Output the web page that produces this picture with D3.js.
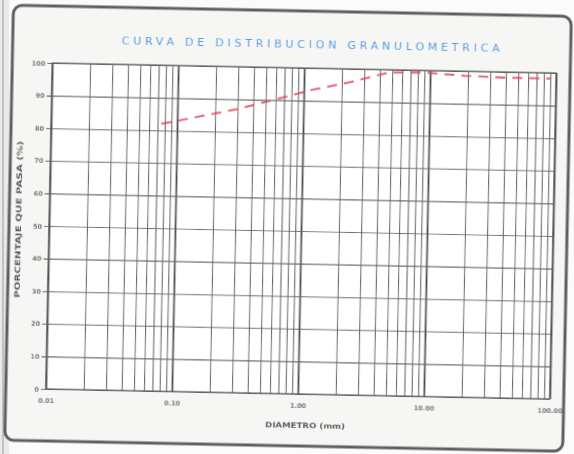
<!DOCTYPE html>
<html>
<head>
<meta charset="utf-8">
<script src="https://cdn.jsdelivr.net/npm/d3@7/dist/d3.min.js"></script>
<style>
  html, body { margin: 0; padding: 0; background: #ffffff; }
  svg { display: block; }
</style>
</head>
<body>
<div id="chart"></div>
<script>
// ---- data ----
const sizesMm   = [0.075, 0.15, 0.3, 0.6, 1.18, 2.36, 4.75, 9.5, 19.0, 37.5, 90.0];
const passing   = [82.0, 84.5, 87.0, 90.2, 93.4, 96.0, 99.2, 99.3, 98.6, 98.3, 98.3];
const yTicks    = [0, 10, 20, 30, 40, 50, 60, 70, 80, 90, 100];
const xDecades  = [0.01, 0.1, 1, 10, 100];
const titleText = "CURVA DE DISTRIBUCION GRANULOMETRICA";
const xTitle    = "DIAMETRO (mm)";
const yTitle    = "PORCENTAJE QUE PASA (%)";

const W = 574, H = 454;
const L = 49, R = 553, T = 68, B = 394;

const svg = d3.select("#chart").append("svg")
  .attr("width", W).attr("height", H);

const defs = svg.append("defs");
defs.append("filter").attr("id", "soft")
  .attr("x", "-5%").attr("y", "-5%").attr("width", "110%").attr("height", "110%")
  .append("feGaussianBlur").attr("stdDeviation", 0.55);

svg.append("rect").attr("width", W).attr("height", H).attr("fill", "#fbfbfb");
// edge of neighbouring page on the left
svg.append("rect").attr("x", 0).attr("y", 0).attr("width", 9).attr("height", H).attr("fill", "#e9e9e9");
svg.append("line").attr("x1", 3).attr("x2", 3).attr("y1", 0).attr("y2", H)
  .attr("stroke", "#9a9a9a").attr("stroke-width", 1);

const g = svg.append("g")
  .attr("transform", "rotate(1.14, 301, 231)")
  .attr("filter", "url(#soft)");

// frame
g.append("rect")
  .attr("x", 9).attr("y", 11).attr("width", 558).attr("height", 435)
  .attr("rx", 9).attr("ry", 9)
  .attr("fill", "#f6f6f4").attr("stroke", "#5e5e5e").attr("stroke-width", 3);

const x = d3.scaleLog().domain([0.01, 100]).range([L, R]);
const y = d3.scaleLinear().domain([0, 100]).range([B, T]);

// plot background
g.append("rect").attr("x", L).attr("y", T).attr("width", R - L).attr("height", B - T)
  .attr("fill", "#ffffff");

// vertical grid
const xTickVals = [];
xDecades.slice(0, -1).forEach(d => { for (let k = 1; k <= 9; k++) xTickVals.push(+(k * d).toPrecision(3)); });
xTickVals.push(100);
const isDecade = v => xDecades.some(d => Math.abs(v - d) < d * 1e-6);

const xGrid = g.append("g").attr("transform", `translate(0,${B})`)
  .call(d3.axisBottom(x).tickValues(xTickVals).tickSize(-(B - T)).tickFormat(""));
xGrid.select(".domain").remove();
xGrid.selectAll(".tick line")
  .attr("stroke", d => isDecade(d) ? "#4a4a4a" : "#666666")
  .attr("stroke-width", d => isDecade(d) ? 1.8 : 1.1);

// horizontal grid (extends 5px left of plot)
const yGrid = g.append("g").attr("transform", `translate(${R},0)`)
  .call(d3.axisLeft(y).tickValues(yTicks).tickSize(R - L + 5).tickFormat(""));
yGrid.select(".domain").remove();
yGrid.selectAll(".tick line").attr("stroke", "#6e6e6e").attr("stroke-width", 1.1);

// y labels
const yAx = g.append("g").attr("transform", `translate(${L - 5},0)`)
  .call(d3.axisLeft(y).tickValues(yTicks).tickSize(0).tickPadding(2).tickFormat(d3.format("d")));
yAx.select(".domain").remove();
yAx.selectAll("text").attr("fill", "#6f6f6f").attr("font-size", 6.5)
  .attr("font-family", "DejaVu Sans, sans-serif").attr("font-weight", "bold");

// x labels
const xAx = g.append("g").attr("transform", `translate(0,${B + 6})`)
  .call(d3.axisBottom(x).tickValues(xDecades).tickSize(0).tickPadding(3).tickFormat(d3.format(".2f")));
xAx.select(".domain").remove();
xAx.selectAll("text").attr("fill", "#6f6f6f").attr("font-size", 6.5)
  .attr("font-family", "DejaVu Sans, sans-serif").attr("font-weight", "bold");

// plot border
g.append("rect").attr("x", L).attr("y", T).attr("width", R - L).attr("height", B - T)
  .attr("fill", "none").attr("stroke", "#5a5a5a").attr("stroke-width", 1.2);

// curve
const pts = sizesMm.map((s, i) => [s, passing[i]]);
g.append("path")
  .datum(pts)
  .attr("d", d3.line().x(d => x(d[0])).y(d => y(d[1])))
  .attr("fill", "none")
  .attr("stroke", "#e2455c")
  .attr("stroke-width", 2.2)
  .attr("stroke-opacity", 0.8)
  .attr("stroke-dasharray", "10,7");

// title
g.append("text")
  .attr("x", 307).attr("y", 48)
  .attr("text-anchor", "middle")
  .attr("font-family", "DejaVu Sans, sans-serif")
  .attr("font-size", 11)
  .attr("textLength", 378).attr("lengthAdjust", "spacing")
  .attr("fill", "#4b9be0")
  .text(titleText);

// axis titles
g.append("text")
  .attr("x", 309).attr("y", 428)
  .attr("text-anchor", "middle")
  .attr("font-family", "DejaVu Sans, sans-serif")
  .attr("font-size", 7.5).attr("font-weight", "bold")
  .attr("textLength", 80).attr("lengthAdjust", "spacingAndGlyphs")
  .attr("fill", "#555555")
  .text(xTitle);

g.append("text")
  .attr("transform", "translate(21,225) rotate(-90)")
  .attr("text-anchor", "middle")
  .attr("font-family", "DejaVu Sans, sans-serif")
  .attr("font-size", 7.5).attr("font-weight", "bold")
  .attr("textLength", 157).attr("lengthAdjust", "spacingAndGlyphs")
  .attr("fill", "#555555")
  .text(yTitle);
</script>
</body>
</html>
